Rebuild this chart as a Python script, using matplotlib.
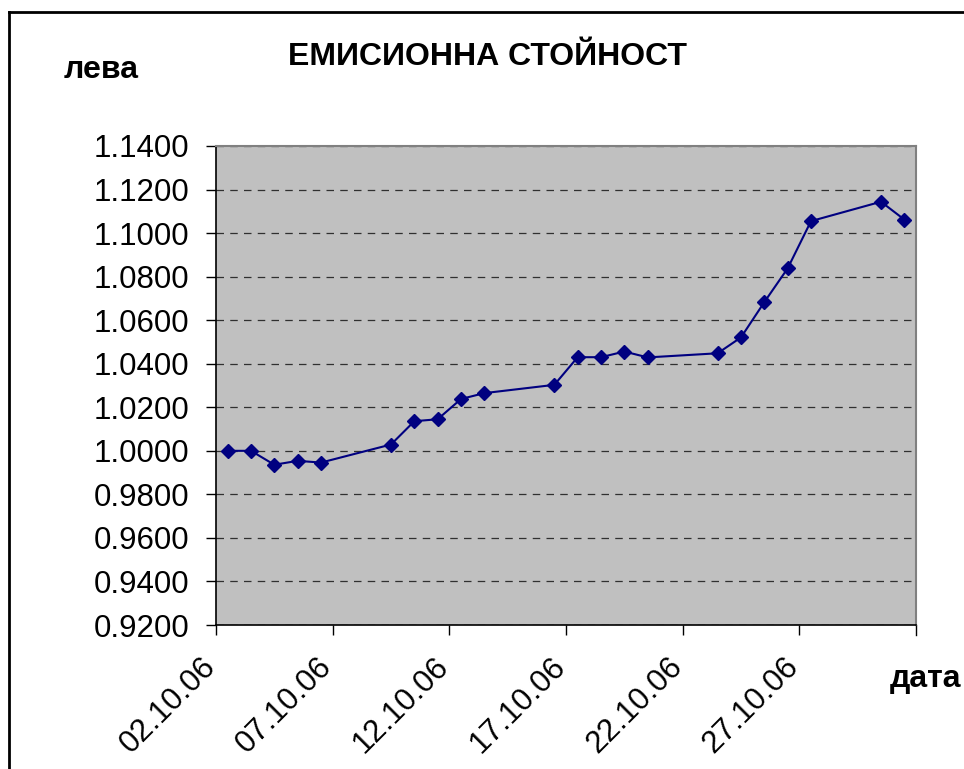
import datetime as dt
import numpy as np
import matplotlib
matplotlib.use("Agg")
import matplotlib.pyplot as plt
import matplotlib.dates as mdates
from matplotlib.lines import Line2D
from matplotlib.transforms import ScaledTranslation
from matplotlib.ticker import FormatStrFormatter, MultipleLocator

plt.rcParams['font.family'] = ['Liberation Sans', 'DejaVu Sans']

# trading days (October 2006) and issue value in leva
dates = ["02.10.06", "03.10.06", "04.10.06", "05.10.06", "06.10.06",
         "09.10.06", "10.10.06", "11.10.06", "12.10.06", "13.10.06",
         "16.10.06", "17.10.06", "18.10.06", "19.10.06", "20.10.06",
         "23.10.06", "24.10.06", "25.10.06", "26.10.06", "27.10.06",
         "30.10.06", "31.10.06"]
values = [1.0000, 1.0000, 0.9936, 0.9954, 0.9946,
          1.0029, 1.0136, 1.0145, 1.0238, 1.0265,
          1.0303, 1.0430, 1.0430, 1.0456, 1.0429,
          1.0448, 1.0521, 1.0683, 1.0838, 1.1055,
          1.1144, 1.1062]

title = "ЕМИСИОННА СТОЙНОСТ"
y_label = "лева"
x_label = "дата"

x = [dt.datetime.strptime(d, "%d.%m.%y") + dt.timedelta(hours=12) for d in dates]

fig = plt.figure(figsize=(9.64, 7.69), dpi=100)
ax = fig.add_axes([216 / 964, 1 - 625 / 769, 700 / 964, 479 / 769])
ax.set_facecolor("#c0c0c0")

ax.plot(x, values, color="#000080", lw=1.5, marker="D", ms=7,
        mfc="#000080", mec="#000080", zorder=3)

ax.set_xlim(dt.datetime(2006, 10, 2), dt.datetime(2006, 11, 1))
ax.set_ylim(0.92, 1.14)
ax.yaxis.set_major_locator(MultipleLocator(0.02))
ax.yaxis.set_major_formatter(FormatStrFormatter("%.4f"))
ax.xaxis.set_major_locator(mdates.DayLocator(bymonthday=[2, 7, 12, 17, 22, 27]))
ax.xaxis.set_major_formatter(mdates.DateFormatter("%d.%m.%y"))

ax.yaxis.grid(True, color="#303030", ls=(0, (6, 5)), lw=0.9)
ax.set_axisbelow(True)

for s in ["left", "bottom"]:
    ax.spines[s].set_color("black")
    ax.spines[s].set_linewidth(1.2)
for s in ["top", "right"]:
    ax.spines[s].set_color("#808080")
    ax.spines[s].set_linewidth(1.5)

ax.tick_params(axis="y", direction="out", length=7, width=1, pad=12, labelsize=22.5)
ax.tick_params(axis="x", direction="out", length=7, width=1, pad=20, labelsize=22.5)
shift = ScaledTranslation(-5 / 100, 0, fig.dpi_scale_trans)
for lab in ax.get_xticklabels():
    lab.set_rotation(45)
    lab.set_rotation_mode("anchor")
    lab.set_ha("right")
    lab.set_va("center")
    lab.set_transform(lab.get_transform() + shift)

# extra tick at the right end of the axis, as in the original
ax.plot([1, 1], [0, -0.02], transform=ax.transAxes, color="black", lw=1, clip_on=False)

fig.text(488 / 964, 1 - 57 / 769, title, ha="center", va="center",
         fontsize=23, fontweight="bold")
fig.text(101 / 964, 1 - 70 / 769, y_label, ha="center", va="center",
         fontsize=23, fontweight="bold")
fig.text(925 / 964, 1 - 679 / 769, x_label, ha="center", va="center",
         fontsize=23, fontweight="bold")

# outer chart frame
fig.add_artist(Line2D([8.5 / 964, 8.5 / 964], [0, 1 - 12 / 769],
                      transform=fig.transFigure, color="black", lw=2))
fig.add_artist(Line2D([8.5 / 964, 1], [1 - 12 / 769, 1 - 12 / 769],
                      transform=fig.transFigure, color="black", lw=2))

fig.savefig("out.png", dpi=100)
